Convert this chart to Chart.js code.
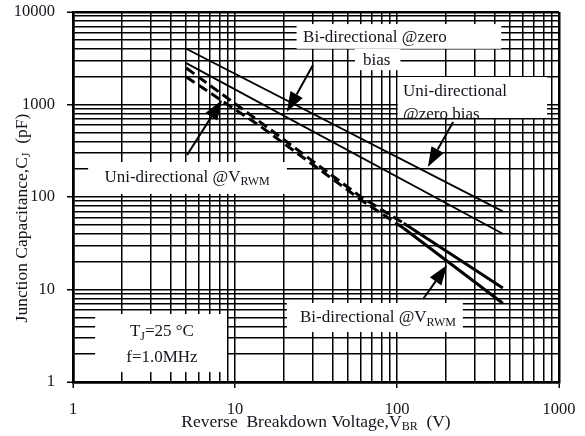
<!DOCTYPE html>
<html>
<head>
<meta charset="utf-8">
<script src="https://cdn.jsdelivr.net/npm/chart.js@4"></script>
<style>
  html, body { margin: 0; padding: 0; background: #fff; }
  #wrap { width: 585px; height: 436px; }
</style>
</head>
<body>
<div id="wrap"><canvas id="capChart"></canvas></div>
<script>
// values
const xTickLabels = [1, 10, 100, 1000];
const yTickLabels = [1, 10, 100, 1000, 10000];

const vbrZero = [5, 450];
const uniZeroBias = [4000, 70];
const biZeroBias = [2800, 40];

const vbrRwm = [5, 14, 60, 110, 450];
const uniRwm = [2480, 664, 100, 52, 10.4];
const biRwm = [1980, 600, 93, 46, 7.1];

const FONT = '"Liberation Serif", "Times New Roman", serif';
const INK = '#14141c';

function toPoints(xs, ys) {
  return xs.map((x, i) => ({ x: x, y: ys[i] }));
}

// 1..9 in every decade, for the log grid
function logGrid(min, max) {
  const out = [];
  for (let e = Math.log10(min); e < Math.log10(max); e++) {
    for (let m = 1; m < 10; m++) out.push(Number((m * Math.pow(10, e)).toPrecision(3)));
  }
  out.push(max);
  return out;
}

function drawRich(ctx, parts, x, y, size, align) {
  const subSize = Math.round(size * 0.7);
  let w = 0;
  parts.forEach(p => {
    ctx.font = (p.sub ? subSize : size) + 'px ' + FONT;
    w += ctx.measureText(p.t).width;
  });
  let cx = align === 'left' ? x : x - w / 2;
  ctx.textBaseline = 'middle';
  ctx.textAlign = 'left';
  ctx.fillStyle = INK;
  parts.forEach(p => {
    ctx.font = (p.sub ? subSize : size) + 'px ' + FONT;
    ctx.fillText(p.t, cx, p.sub ? y + size * 0.3 : y);
    cx += ctx.measureText(p.t).width;
  });
}

// label boxes, in data units
const boxes = [
  { x0: 24, x1: 440, y0: 7400, y1: 4000 },
  { x0: 55, x1: 105, y0: 4000, y1: 2350 },
  { x0: 101, x1: 844, y0: 1983, y1: 714, clip: true },
  { x0: 1.24, x1: 20.9, y0: 239, y1: 108 },
  { x0: 20.9, x1: 255, y0: 7.15, y1: 3.47 },
  { x0: 1.37, x1: 8.92, y0: 5.43, y1: 1.28 }
];

const labels = [
  { x: 73, y: 5240, parts: [{ t: 'Bi-directional @zero' }] },
  { x: 75, y: 3000, parts: [{ t: 'bias' }] },
  { x: 109, y: 1365, align: 'left', box: 2, parts: [{ t: 'Uni-directional' }] },
  { x: 109, y: 770, align: 'left', box: 2, parts: [{ t: '@zero bias' }] },
  { x: 5.06, y: 164, parts: [{ t: 'Uni-directional @V' }, { t: 'RWM', sub: true }] },
  { x: 76.3, y: 4.92, parts: [{ t: 'Bi-directional @V' }, { t: 'RWM', sub: true }] },
  { x: 3.54, y: 3.47, parts: [{ t: 'T' }, { t: 'J', sub: true }, { t: '=25 °C' }] },
  { x: 3.54, y: 1.86, parts: [{ t: 'f=1.0MHz' }] }
];

const arrows = [
  { from: [30.3, 2673], to: [20.9, 830] },
  { from: [222, 647], to: [155, 211] },
  { from: [5.06, 285], to: [8.32, 1119] },
  { from: [145, 7.89], to: [204, 18.4] }
];

const notes = {
  id: 'notes',
  beforeDatasetsDraw(chart) {
    const ctx = chart.ctx;
    const xs = chart.scales.x, ys = chart.scales.y;
    ctx.save();
    ctx.fillStyle = '#fff';
    const rects = boxes.map(b => {
      const r = {
        l: xs.getPixelForValue(b.x0), r: xs.getPixelForValue(b.x1),
        t: ys.getPixelForValue(b.y0), b: ys.getPixelForValue(b.y1)
      };
      ctx.fillRect(r.l, r.t, r.r - r.l, r.b - r.t);
      return r;
    });
    labels.forEach(l => {
      ctx.save();
      if (l.box !== undefined) {
        const r = rects[l.box];
        ctx.beginPath();
        ctx.rect(r.l, r.t, r.r - r.l, r.b - r.t);
        ctx.clip();
      }
      drawRich(ctx, l.parts, xs.getPixelForValue(l.x), ys.getPixelForValue(l.y), 17, l.align);
      ctx.restore();
    });
    ctx.restore();
  },
  afterDatasetsDraw(chart) {
    const ctx = chart.ctx;
    const xs = chart.scales.x, ys = chart.scales.y;
    ctx.save();
    ctx.strokeStyle = '#000';
    ctx.fillStyle = '#000';
    ctx.lineWidth = 2;
    arrows.forEach(a => {
      const x1 = xs.getPixelForValue(a.from[0]), y1 = ys.getPixelForValue(a.from[1]);
      const x2 = xs.getPixelForValue(a.to[0]), y2 = ys.getPixelForValue(a.to[1]);
      const ang = Math.atan2(y2 - y1, x2 - x1);
      const len = 20, half = 7;
      const bx = x2 - len * Math.cos(ang), by = y2 - len * Math.sin(ang);
      ctx.beginPath();
      ctx.moveTo(x1, y1);
      ctx.lineTo(bx, by);
      ctx.stroke();
      ctx.beginPath();
      ctx.moveTo(x2, y2);
      ctx.lineTo(bx + half * Math.sin(ang), by - half * Math.cos(ang));
      ctx.lineTo(bx - half * Math.sin(ang), by + half * Math.cos(ang));
      ctx.closePath();
      ctx.fill();
    });
    ctx.restore();
  },
  afterDraw(chart) {
    const ctx = chart.ctx;
    const area = chart.chartArea;
    ctx.save();
    drawRich(ctx, [{ t: 'Reverse  Breakdown Voltage,V' }, { t: 'BR', sub: true }, { t: '  (V)' }],
      (area.left + area.right) / 2, 422, 17.5);
    ctx.translate(22, 218);
    ctx.rotate(-Math.PI / 2);
    drawRich(ctx, [{ t: 'Junction Capacitance,C' }, { t: 'J', sub: true }, { t: '  (pF)' }], 0, 0, 17.5);
    ctx.restore();
  }
};

function axis(min, max, majors, fit) {
  return {
    type: 'logarithmic',
    min: min,
    max: max,
    afterBuildTicks: s => { s.ticks = logGrid(min, max).map(v => ({ value: v })); },
    afterFit: fit,
    grid: {
      color: '#000',
      lineWidth: c => (c.tick && (c.tick.value === min || c.tick.value === max)) ? 2.5 : 1.5,
      tickLength: 6,
      tickColor: c => (c.tick && majors.includes(c.tick.value)) ? '#000' : 'rgba(0,0,0,0)',
      tickWidth: 1.5
    },
    border: { display: true, color: '#000', width: 2.5 },
    ticks: {
      autoSkip: false,
      maxRotation: 0,
      color: INK,
      font: { family: FONT, size: 16.5 },
      callback: v => majors.includes(v) ? String(v) : ''
    }
  };
}

const xScale = axis(1, 1000, xTickLabels, s => {
  s.height = 54;
  s.paddingLeft = 0;
  s.paddingRight = 0;
});
xScale.ticks.padding = 12;
const yScale = axis(1, 10000, yTickLabels, s => {
  s.width = 73;
  s.paddingTop = 0;
  s.paddingBottom = 0;
});
yScale.ticks.padding = 12;

const solid = { borderColor: '#000', borderWidth: 1.8, pointRadius: 0, tension: 0, fill: false };
const dashedEnd = ctx => ctx.p1DataIndex === vbrRwm.length - 1 ? [] : [10, 5];

new Chart(document.getElementById('capChart'), {
  type: 'line',
  data: {
    datasets: [
      Object.assign({ label: 'Uni-directional @zero bias', data: toPoints(vbrZero, uniZeroBias) }, solid),
      Object.assign({ label: 'Bi-directional @zero bias', data: toPoints(vbrZero, biZeroBias) }, solid),
      Object.assign({ label: 'Uni-directional @VRWM', data: toPoints(vbrRwm, uniRwm) }, solid,
        { borderWidth: 3, segment: { borderDash: dashedEnd } }),
      Object.assign({ label: 'Bi-directional @VRWM', data: toPoints(vbrRwm, biRwm) }, solid,
        { borderWidth: 3, segment: { borderDash: dashedEnd } })
    ]
  },
  options: {
    responsive: true,
    maintainAspectRatio: false,
    animation: false,
    layout: { padding: { top: 12, right: 26, left: 0, bottom: 0 } },
    scales: { x: xScale, y: yScale },
    plugins: {
      legend: { display: false },
      tooltip: { enabled: false }
    }
  },
  plugins: [notes]
});
</script>
</body>
</html>
